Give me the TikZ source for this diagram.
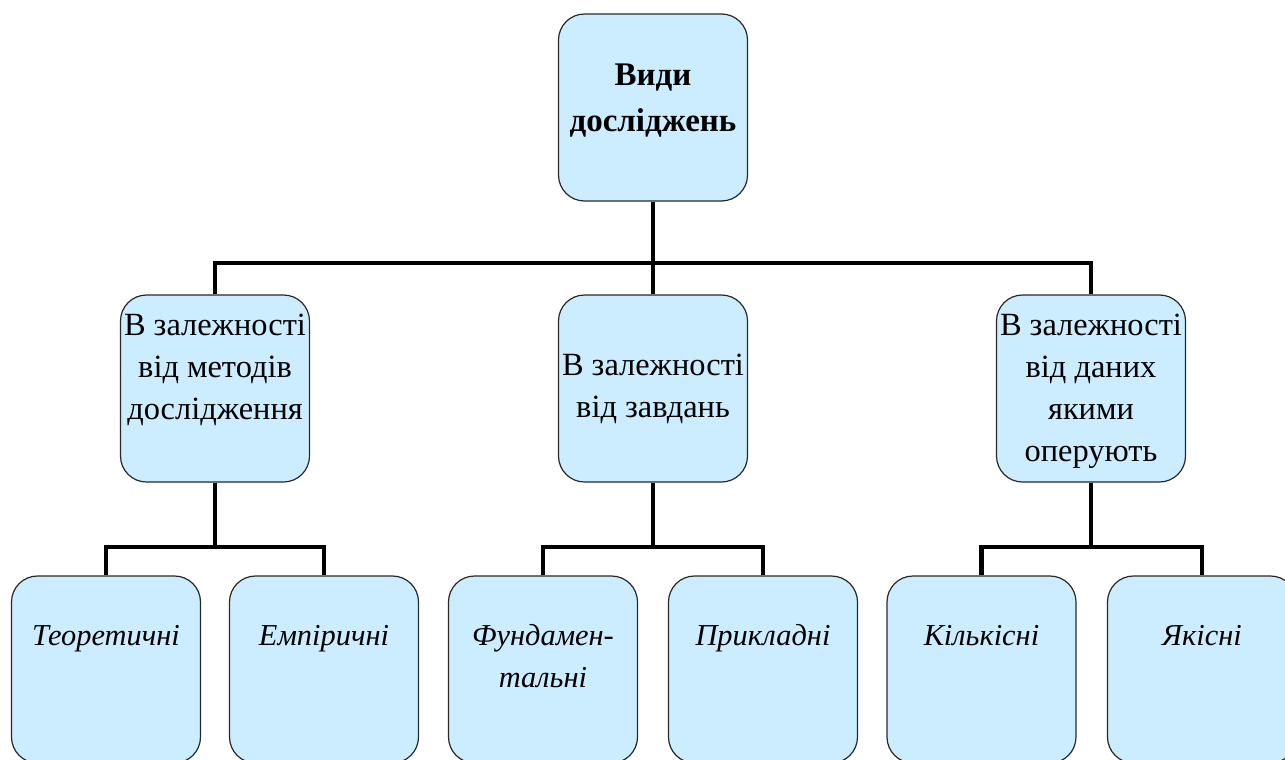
\documentclass[tikz,border=0pt]{standalone}
\usepackage{fontspec}
\setmainfont{Liberation Serif}
\definecolor{boxblue}{RGB}{204, 236, 255}
\definecolor{boxline}{RGB}{40, 40, 40}
\usepackage{tikz}
\usetikzlibrary{positioning, calc}

\begin{document}
\begin{tikzpicture}[
  x=0.5pt, y=-0.5pt,
  kbox/.style={draw=boxline, line width=0.6pt, fill=boxblue, rounded corners=13pt, minimum width=94.5pt, minimum height=93.5pt, inner sep=0pt, align=center, font=\fontsize{16.2}{21}\selectfont},
  leafbox/.style={kbox, font=\fontsize{15.2}{21}\selectfont\itshape, text height=34.5pt, text depth=59pt},
  link/.style={draw=black, line width=2.4pt}
]
  \useasboundingbox (0,0) rectangle (1285,760);

  % top level
  \node[kbox, text depth=10pt, font=\fontsize{16.5}{23}\selectfont] (root) at (653, 107.5) {\textbf{Види}\\\textbf{досліджень}};

  % second level
  \node[kbox, text depth=22pt] (meth) at (215, 388.5) {В залежності\\від методів\\дослідження};
  \node[kbox] (task) at (653, 388.5) {В залежності\\від завдань};
  \node[kbox, text depth=1pt] (data) at (1091, 388.5) {В залежності\\від даних\\якими\\оперують};

  % leaves
  \node[leafbox] (theor) at (106, 669.5) {Теоретичні};
  \node[leafbox] (empir) at (324, 669.5) {Емпіричні};
  \node[leafbox, text height=55.5pt, text depth=38pt] (fund) at (543, 669.5) {Фундамен-\\тальні};
  \node[leafbox] (appl)  at (763, 669.5) {Прикладні};
  \node[leafbox] (quant) at (981.5, 669.5) {Кількісні};
  \node[leafbox] (qual)  at (1202, 669.5) {Якісні};

  % connectors
  \coordinate (hub)  at (653, 263);
  \coordinate (hubM) at (215, 547);
  \coordinate (hubT) at (653, 547);
  \coordinate (hubD) at (1091, 547);

  \draw[link] (root.south) -- (hub);
  \draw[link] (meth.north) |- (hub) -| (data.north);
  \draw[link] (hub) -- (task.north);

  \draw[link] (meth.south) -- (hubM);
  \draw[link] (theor.north) |- (hubM) -| (empir.north);
  \draw[link] (task.south) -- (hubT);
  \draw[link] (fund.north) |- (hubT) -| (appl.north);
  \draw[link] (data.south) -- (hubD);
  \draw[link] (quant.north) |- (hubD) -| (qual.north);
\end{tikzpicture}
\end{document}
